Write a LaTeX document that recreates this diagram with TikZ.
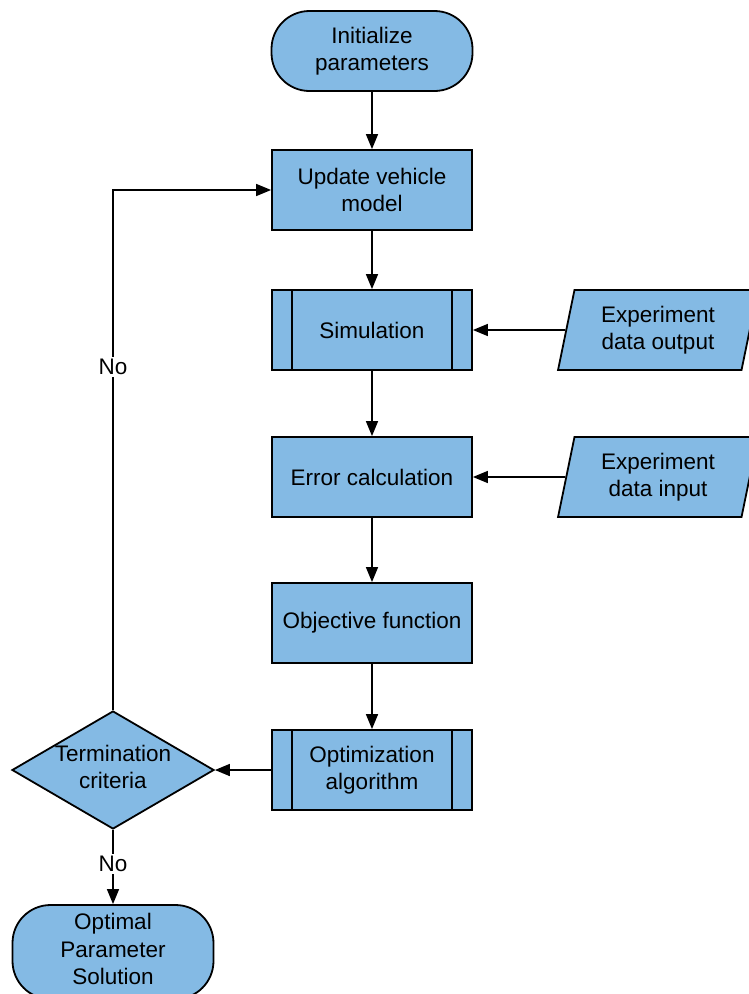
\documentclass[tikz,border=0pt]{standalone}
\usepackage{fontspec}
\setmainfont{Liberation Sans}
\usetikzlibrary{arrows.meta,shapes.geometric}
\definecolor{boxblue}{RGB}{132,186,228}
\begin{document}
\begin{tikzpicture}[x=1pt,y=-1pt,
  txt/.style={font=\fontsize{22.5}{27.5}\selectfont, align=center},
  base/.style={draw=black, line width=1.8pt, fill=boxblue, txt, inner sep=0pt},
  process/.style={base, rectangle, minimum width=200pt, minimum height=80pt},
  terminal/.style={base, rectangle, rounded corners=38pt, minimum width=201pt, minimum height=80pt},
  subroutine/.style={process, path picture={
      \draw[line width=1.8pt]
        ([xshift=20pt]path picture bounding box.north west) -- ([xshift=20pt]path picture bounding box.south west)
        ([xshift=-20pt]path picture bounding box.north east) -- ([xshift=-20pt]path picture bounding box.south east);}},
  datain/.style={base, trapezium, trapezium left angle=77, trapezium right angle=103,
    trapezium stretches=true, minimum width=200pt, minimum height=80pt},
  decision/.style={base, diamond, minimum width=202pt, minimum height=118pt},
  arr/.style={line width=1.6pt, -{Triangle[length=15pt,width=12pt]}},
  lbl/.style={fill=white, txt, inner sep=2pt}
]
\useasboundingbox (0,0) rectangle (748,994);

% main column
\node[terminal]   (init) at (372,51)  {Initialize\\parameters};
\node[process]    (upd)  at (372,190) {Update vehicle\\model};
\node[subroutine] (sim)  at (372,330) {Simulation};
\node[process]    (err)  at (372,477) {Error calculation};
\node[process]    (obj)  at (372,623) {Objective function};
\node[subroutine] (opt)  at (372,770) {Optimization\\algorithm};

% experiment data
\node[datain] (dout) at (658,330) {Experiment\\data output};
\node[datain] (din)  at (658,477) {Experiment\\data input};

% decision and result
\node[decision, label={[txt, yshift=3pt]center:Termination\\criteria}] (term) at (113,770) {};
\node[terminal, minimum height=94pt, label={[txt, yshift=3pt]center:Optimal\\Parameter\\Solution}] (sol) at (113,952) {};

% connectors
\draw[arr] (init) -- (upd);
\draw[arr] (upd) -- (sim);
\draw[arr] (sim) -- (err);
\draw[arr] (err) -- (obj);
\draw[arr] (obj) -- (opt);
\draw[arr] (dout.west) -- (sim.east);
\draw[arr] (din.west) -- (err.east);
\draw[arr] (opt.west) -- (term.east);
\draw[arr] (term.north) |- node[lbl, pos=0.33] {No} (upd.west);
\draw[arr] (term.south) -- node[lbl, pos=0.46] {No} (sol.north);
\end{tikzpicture}
\end{document}
